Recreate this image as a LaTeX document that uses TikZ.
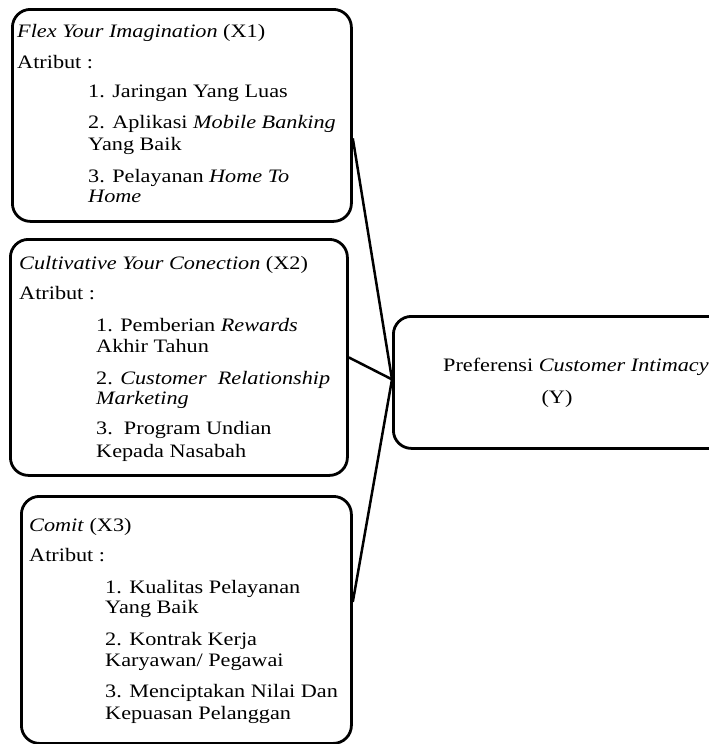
\documentclass[tikz,border=0pt]{standalone}
\usepackage{fontspec}
\setmainfont{Liberation Serif}[FakeStretch=1.17]
\usepackage{tikz}

\begin{document}
\begin{tikzpicture}[x=1pt, y=-1pt,
  box/.style={draw, line width=2.8pt, rounded corners=18pt, anchor=north west, inner sep=0pt},
  lbl/.style={anchor=base west, inner sep=0pt, font=\fontsize{19}{20}\selectfont},
  link/.style={line width=2.5pt}]
\useasboundingbox (0,0) rectangle (709,744);

% Kotak X1
\node[box, minimum width=339pt, minimum height=212pt] (x1) at (11,8) {};
\node[lbl] (x1t) at (17,37) {\textit{Flex Your Imagination} (X1)};
\node[lbl] (x1a) at (17,68) {Atribut :};
\node[lbl] (x1i) at (88,97) {1. Jaringan Yang Luas};
\node[lbl] (x1j) at (88,128) {2. Aplikasi \textit{Mobile Banking}};
\node[lbl] (x1k) at (88,150) {Yang Baik};
\node[lbl] (x1l) at (88,182) {3. Pelayanan \textit{Home To}};
\node[lbl] (x1m) at (88,202) {\textit{Home}};

% Kotak X2
\node[box, minimum width=337pt, minimum height=236pt] (x2) at (9,238) {};
\node[lbl] (x2t) at (19,269) {\textit{Cultivative Your Conection} (X2)};
\node[lbl] (x2a) at (19,299) {Atribut :};
\node[lbl] (x2i) at (96,331) {1. Pemberian \textit{Rewards}};
\node[lbl] (x2j) at (96,352) {Akhir Tahun};
\node[lbl] (x2k) at (96,384) {2. \textit{Customer\ \ Relationship}};
\node[lbl] (x2l) at (96,404) {\textit{Marketing}};
\node[lbl] (x2m) at (96,434) {3.\ \ Program Undian};
\node[lbl] (x2n) at (96,457) {Kepada Nasabah};

% Kotak X3
\node[box, minimum width=330pt, minimum height=247pt] (x3) at (20,495) {};
\node[lbl] (x3t) at (29,531) {\textit{Comit} (X3)};
\node[lbl] (x3a) at (29,561) {Atribut :};
\node[lbl] (x3i) at (105,593) {1. Kualitas Pelayanan};
\node[lbl] (x3j) at (105,613) {Yang Baik};
\node[lbl] (x3k) at (105,645) {2. Kontrak Kerja};
\node[lbl] (x3l) at (105,666) {Karyawan/ Pegawai};
\node[lbl] (x3m) at (105,697) {3. Menciptakan Nilai Dan};
\node[lbl] (x3n) at (105,719) {Kepuasan Pelanggan};

% Kotak Y
\node[box, minimum width=340pt, minimum height=132pt] (y) at (392,315) {};
\node[lbl] (yt) at (443,371) {Preferensi \textit{Customer Intimacy}};
\node[lbl, anchor=base] (yl) at (557,403) {(Y)};

% Garis penghubung
\draw[link] ([yshift=-23pt]x1.east) -- ([yshift=3pt]y.west);
\draw[link] (x2.east) -- ([yshift=3pt]y.west);
\draw[link] ([yshift=18pt]x3.east) -- ([yshift=3pt]y.west);
\end{tikzpicture}
\end{document}
